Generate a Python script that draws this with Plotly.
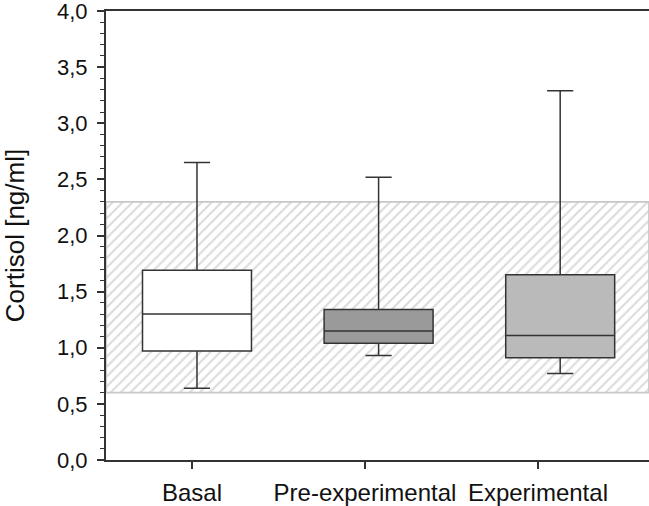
import plotly.graph_objects as go

# ---- data ----
categories = ["Basal", "Pre-experimental", "Experimental"]
lower_whisker = [0.64, 0.93, 0.77]
q1 = [0.97, 1.04, 0.91]
median = [1.30, 1.15, 1.11]
q3 = [1.69, 1.34, 1.65]
upper_whisker = [2.65, 2.52, 3.29]
box_colors = ["#ffffff", "#9a9a9a", "#bababa"]

ref_low = 0.6
ref_high = 2.3

y_ticks = [0.0, 0.5, 1.0, 1.5, 2.0, 2.5, 3.0, 3.5, 4.0]

# axis ranges (layout)
label_range = [-0.497, 2.642]
box_range = [-0.501, 2.489]

FONT = "Liberation Sans, Arial, sans-serif"
LINE = "#333333"

fig = go.Figure()

# hatched reference band
fig.add_trace(go.Scatter(
    x=[label_range[0], label_range[1], label_range[1], label_range[0], label_range[0]],
    y=[ref_low, ref_low, ref_high, ref_high, ref_low],
    mode="lines",
    fill="toself",
    fillcolor="white",
    fillpattern=dict(shape="/", fgcolor="#b8b8b8", bgcolor="white", size=7, solidity=0.3),
    line=dict(color="#c8c8c8", width=1.8),
    hoverinfo="skip",
    showlegend=False,
    xaxis="x", yaxis="y",
))

for i, cat in enumerate(categories):
    fig.add_trace(go.Box(
        x=[cat],
        q1=[q1[i]], median=[median[i]], q3=[q3[i]],
        lowerfence=[lower_whisker[i]], upperfence=[upper_whisker[i]],
        fillcolor=box_colors[i],
        line=dict(color=LINE, width=1.5),
        whiskerwidth=0.24,
        width=0.6,
        boxpoints=False,
        showlegend=False,
        hoverinfo="skip",
        xaxis="x2", yaxis="y",
    ))

fig.update_layout(
    width=649, height=506,
    margin=dict(l=106, r=0, t=11, b=46, autoexpand=False),
    paper_bgcolor="white", plot_bgcolor="white",
    separators=",.",
    font=dict(family=FONT, color="#111111"),
    xaxis=dict(
        range=label_range,
        tickvals=list(range(len(categories))),
        ticktext=categories,
        ticks="outside", ticklen=7, tickwidth=1.5, tickcolor=LINE,
        ticklabelstandoff=3,
        ticklabeloverflow="allow",
        showline=True, linecolor=LINE, linewidth=2, mirror=True,
        showgrid=False, zeroline=False, automargin=False,
        tickfont=dict(size=24, family=FONT, color="#111111"),
    ),
    xaxis2=dict(
        range=box_range,
        overlaying="x",
        showticklabels=False, ticks="", showline=False,
        showgrid=False, zeroline=False, automargin=False,
    ),
    yaxis=dict(
        range=[0, 4],
        tickvals=y_ticks,
        tickformat=".1f",
        ticks="outside", ticklen=7, tickwidth=1.5, tickcolor=LINE,
        ticklabelstandoff=5,
        ticklabeloverflow="allow",
        minor=dict(dtick=0.1, ticks="outside", ticklen=4, tickwidth=1.2, tickcolor=LINE, showgrid=False),
        showline=True, linecolor=LINE, linewidth=2,
        showgrid=False, zeroline=False, automargin=False,
        tickfont=dict(size=22, family=FONT, color="#111111"),
        title=dict(text="Cortisol [ng/ml]", font=dict(size=26, family=FONT, color="#111111"), standoff=25),
    ),
)

fig.write_html(
    "out.html",
    config={"displayModeBar": False},
    post_script="document.body.style.margin='0';document.body.style.overflow='hidden';",
)
